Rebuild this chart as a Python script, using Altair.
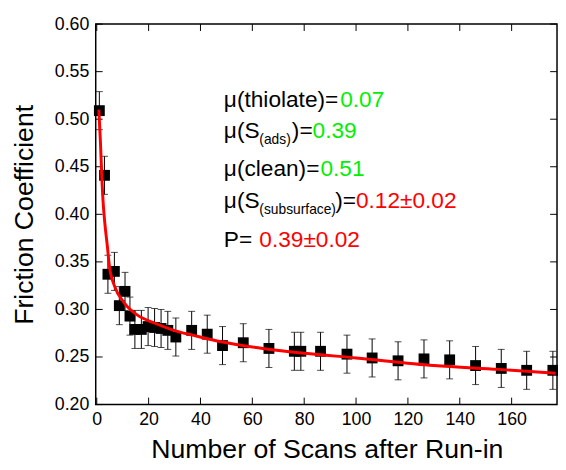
import altair as alt
import pandas as pd

# ---- data ----
scan = [1, 3, 4.3, 6.8, 8.7, 10.9, 12.8, 14.7, 17.2, 19.8, 22.3, 24.8, 27.4, 30.5,
        36.6, 42.6, 48.5, 56.5, 66.4, 76.2, 78.7, 86.3, 96.5, 106.2, 116.2, 126.2,
        136.1, 146.1, 156.0, 165.8, 175.9]
friction = [0.509, 0.441, 0.337, 0.340, 0.304, 0.319, 0.293, 0.279, 0.279, 0.282,
            0.281, 0.280, 0.278, 0.271, 0.278, 0.274, 0.262, 0.265, 0.259, 0.256,
            0.256, 0.256, 0.253, 0.249, 0.246, 0.248, 0.247, 0.241, 0.238, 0.236,
            0.236]
err = [0.020, 0.020, 0.020, 0.020, 0.020, 0.020, 0.020, 0.020, 0.020, 0.020,
       0.020, 0.020, 0.020, 0.020, 0.020, 0.020, 0.020, 0.020, 0.020, 0.020,
       0.020, 0.020, 0.020, 0.020, 0.020, 0.020, 0.020, 0.020, 0.020, 0.020,
       0.020]
fit_scan = [0.8, 1.4, 2.0, 2.4, 3.0, 4.1, 4.9, 6.8, 10.6, 15.7, 22, 31, 37, 48,
            64, 80, 100, 130, 155, 177]
fit_mu = [0.510, 0.477, 0.436, 0.415, 0.394, 0.366, 0.345, 0.325, 0.307, 0.294,
          0.286, 0.277, 0.273, 0.266, 0.259, 0.254, 0.249, 0.241, 0.237, 0.233]
x_ticks = [0, 20, 40, 60, 80, 100, 120, 140, 160]
y_ticks = [0.20, 0.25, 0.30, 0.35, 0.40, 0.45, 0.50, 0.55, 0.60]

pts = pd.DataFrame({"scan": scan, "mu": friction, "err": err})
pts["lo"] = pts["mu"] - pts["err"]
pts["hi"] = pts["mu"] + pts["err"]
fit = pd.DataFrame({"scan": fit_scan, "mu": fit_mu})
xt = pd.DataFrame({"scan": x_ticks})
yt = pd.DataFrame({"mu": y_ticks})

W, H = 468, 386
FONT = "Liberation Sans"
GREEN = "#00f000"
RED = "#ff0000"

xs = alt.Scale(domain=[-0.4, 177.5], nice=False, zero=False)
ys = alt.Scale(domain=[0.2, 0.6], nice=False, zero=False)

XA = alt.Axis(values=x_ticks, format="d", title="Number of Scans after Run-in",
              labelPadding=6, titleX=234.5, titleY=54, titleAlign="center",
              titleBaseline="alphabetic")
YA = alt.Axis(values=y_ticks, format=".2f", title="Friction Coefficient",
              labelPadding=7, titleX=-64, titleY=193, titleAngle=270,
              titleAlign="center", titleBaseline="alphabetic")


def X(f="scan:Q"):
    return alt.X(f, scale=xs, axis=XA, title="Number of Scans after Run-in")


def Y(f="mu:Q"):
    return alt.Y(f, scale=ys, axis=YA, title="Friction Coefficient")


base = alt.Chart(pts)
bars = base.mark_rule(color="black", strokeWidth=1).encode(
    x=X(), y=Y("lo:Q"), y2="hi:Q")
cap_lo = base.mark_tick(orient="horizontal", size=7, thickness=1, color="black").encode(
    x=X(), y=Y("lo:Q"))
cap_hi = base.mark_tick(orient="horizontal", size=7, thickness=1, color="black").encode(
    x=X(), y=Y("hi:Q"))
squares = base.mark_square(size=121, color="black", opacity=1, filled=True).encode(
    x=X(), y=Y())
curve = alt.Chart(fit).mark_line(color=RED, strokeWidth=3, interpolate="monotone").encode(
    x=X(), y=Y())

# inward ticks on all four sides
tick_l = alt.Chart(yt).mark_rule(color="black", strokeWidth=1).encode(
    y=Y(), x=alt.value(0), x2=alt.value(7))
tick_r = alt.Chart(yt).mark_rule(color="black", strokeWidth=1).encode(
    y=Y(), x=alt.value(W), x2=alt.value(W - 7))
tick_b = alt.Chart(xt).mark_rule(color="black", strokeWidth=1).encode(
    x=X(), y=alt.value(H), y2=alt.value(H - 7))
tick_t = alt.Chart(xt).mark_rule(color="black", strokeWidth=1).encode(
    x=X(), y=alt.value(0), y2=alt.value(7))


def txt(s, x, y, color="black", size=23):
    return alt.Chart(alt.Data(values=[{}])).mark_text(
        text=s, align="left", baseline="alphabetic", font=FONT,
        fontSize=size, color=color).encode(x=alt.value(x), y=alt.value(y))


labels = [
    txt("\u03bc(thiolate)=", 130, 84),
    txt("0.07", 248, 84, GREEN),
    txt("\u03bc(S", 130, 116),
    txt("(ads)", 166, 122, size=14),
    txt(")=", 199, 116),
    txt("0.39", 220, 116, GREEN),
    txt("\u03bc(clean)=", 130, 154),
    txt("0.51", 228, 154, GREEN),
    txt("\u03bc(S", 130, 187),
    txt("(subsurface)", 166, 193, size=14),
    txt(")=", 243, 187),
    txt("0.12\u00b10.02", 264, 187, RED),
    txt("P=", 130, 226),
    txt("0.39\u00b10.02", 166, 226, RED),
]

chart = alt.layer(
    tick_l, tick_r, tick_b, tick_t, bars, cap_lo, cap_hi, squares, curve, *labels
).properties(
    width=W, height=H,
    autosize=alt.AutoSizeParams(type="none"),
    padding={"left": 89, "top": 13, "right": 1, "bottom": 58},
).configure_view(
    stroke="black", strokeWidth=1.5
).configure_axis(
    grid=False, ticks=False, domain=False,
    labelFont=FONT, labelFontSize=18, labelColor="black",
    titleFont=FONT, titleFontSize=27, titleFontWeight="normal", titleColor="black"
)

chart.save("out.html", embed_options={"renderer": "svg", "actions": False})
